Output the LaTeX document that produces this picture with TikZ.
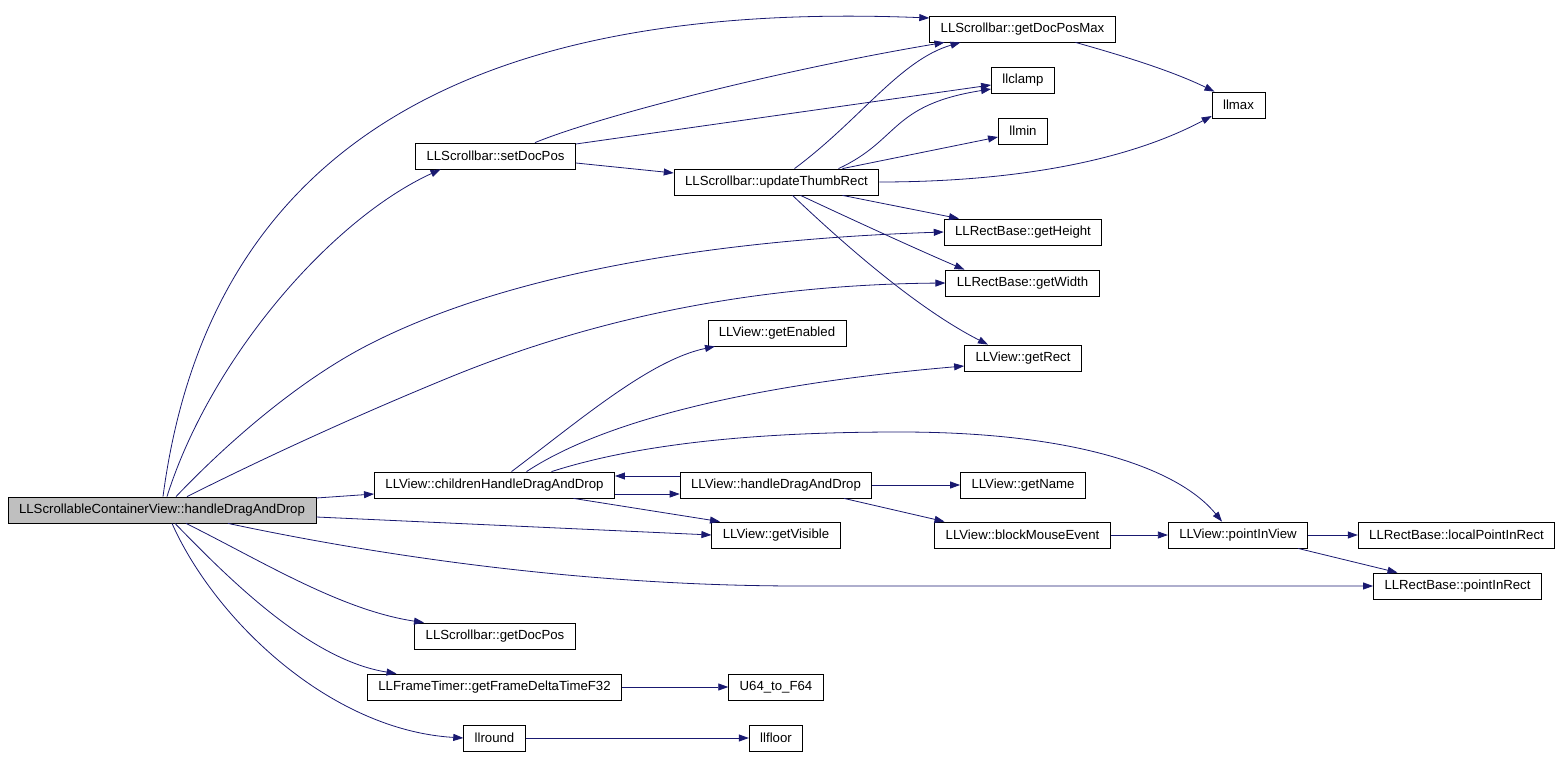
\documentclass[tikz,border=0pt]{standalone}
\usepackage{fontspec}
\setmainfont{Liberation Sans}
\usetikzlibrary{arrows.meta}
\definecolor{callblue}{HTML}{191970}
\definecolor{rootgray}{HTML}{BFBFBF}

\begin{document}
\begin{tikzpicture}[x=1pt,y=-1pt,>={Triangle[length=10pt,width=7pt]},
        fn/.style={draw=black, line width=0.8pt, rectangle, minimum height=26pt,
            inner xsep=11pt, inner ysep=0pt, font=\fontsize{13.2}{15}\selectfont},
        call/.style={->, draw=callblue, fill=none, line width=0.8pt}]

    \useasboundingbox (0,0) rectangle (1563,757);

    \node[fn, fill=rootgray] (H) at (162,510) {LLScrollableContainerView::handleDragAndDrop};
    \node[fn] (S) at (495.5,156) {LLScrollbar::setDocPos};
    \node[fn] (GDPM) at (1022.5,29) {LLScrollbar::getDocPosMax};
    \node[fn] (clamp) at (1023,80) {llclamp};
    \node[fn] (min) at (1023,131) {llmin};
    \node[fn] (max) at (1238.5,105) {llmax};
    \node[fn] (U) at (776.5,182) {LLScrollbar::updateThumbRect};
    \node[fn] (GH) at (1023,232) {LLRectBase::getHeight};
    \node[fn] (GW) at (1022.5,283) {LLRectBase::getWidth};
    \node[fn] (GE) at (777,333) {LLView::getEnabled};
    \node[fn] (GR) at (1023,358) {LLView::getRect};
    \node[fn] (C) at (494.5,485) {LLView::childrenHandleDragAndDrop};
    \node[fn] (HD) at (776,485) {LLView::handleDragAndDrop};
    \node[fn] (GN) at (1023,485) {LLView::getName};
    \node[fn] (GV) at (776,535) {LLView::getVisible};
    \node[fn] (BME) at (1022.5,535) {LLView::blockMouseEvent};
    \node[fn] (PIV) at (1238,535) {LLView::pointInView};
    \node[fn] (LPIR) at (1456.5,535) {LLRectBase::localPointInRect};
    \node[fn] (PIR) at (1457.5,586) {LLRectBase::pointInRect};
    \node[fn] (GDP) at (495,636) {LLScrollbar::getDocPos};
    \node[fn] (FT) at (494.5,687) {LLFrameTimer::getFrameDeltaTimeF32};
    \node[fn] (U64) at (776,687) {U64\_to\_F64};
    \node[fn] (round) at (494.5,738) {llround};
    \node[fn] (floor) at (776,738) {llfloor};

    \draw[call] ([xshift=1pt]H.north) .. controls (210,140) and (480,0) .. ([yshift=11pt]GDPM.west);
    \draw[call] ([xshift=5pt]H.north) .. controls (210,360) and (330,220) .. ([xshift=-55pt]S.south);
    \draw[call] ([xshift=14pt]H.north) .. controls (230,440) and (300,380) .. (368,345)
        .. controls (500,277) and (700,240) .. (GH.west);
    \draw[call] ([xshift=25pt]H.north) .. controls (280,450) and (370,410) .. (448,378)
        .. controls (560,332) and (720,285) .. (GW.west);
    \draw[call] ([yshift=12pt]H.east) -- ([yshift=-9pt]C.west);
    \draw[call] ([yshift=-7pt]H.east) -- (GV.west);
    \draw[call] ([xshift=66pt]H.south) .. controls (400,560) and (600,586) .. (800,586) -- (PIR.west);
    \draw[call] ([xshift=24pt]H.south) .. controls (260,560) and (340,610) .. ([xshift=-71pt]GDP.north);
    \draw[call] ([xshift=13pt]H.south) .. controls (230,580) and (310,660) .. ([xshift=-98pt]FT.north);
    \draw[call] ([xshift=10pt]H.south) .. controls (215,620) and (330,730) .. (round.west);

    \draw[call] ([xshift=39.5pt]S.north) .. controls (600,116) and (780,70) .. ([xshift=-78pt]GDPM.south);
    \draw[call] ([yshift=12pt]S.east) -- ([yshift=-5pt]clamp.west);
    \draw[call] ([yshift=-7pt]S.east) -- ([yshift=9pt]U.west);

    \draw[call] ([xshift=18pt]U.north) .. controls (860,120) and (900,60) .. ([xshift=-62pt]GDPM.south);
    \draw[call] ([xshift=62pt]U.north) .. controls (900,140) and (890,105) .. ([yshift=-9pt]clamp.west);
    \draw[call] ([xshift=66pt]U.north) -- ([yshift=-6pt]min.west);
    \draw[call] (U.east) .. controls (1000,182) and (1120,165) .. ([yshift=-11pt]max.west);
    \draw[call] ([xshift=66pt]U.south) -- ([xshift=-64pt]GH.north);
    \draw[call] ([xshift=24pt]U.south) .. controls (870,228) and (930,255) .. ([xshift=-58pt]GW.north);
    \draw[call] ([xshift=16pt]U.south) .. controls (850,250) and (920,310) .. ([xshift=-35pt]GR.north);
    \draw[call] ([xshift=53pt]GDPM.south) .. controls (1120,55) and (1170,70) .. ([xshift=-24pt]max.north);

    \draw[call] ([xshift=17pt]C.north) .. controls (580,420) and (650,360) .. ([xshift=-62pt]GE.south);
    \draw[call] ([xshift=32pt]C.north) .. controls (620,410) and (800,380) .. ([yshift=-8pt]GR.west);
    \draw[call] ([xshift=57pt]C.north) .. controls (650,440) and (780,432) .. (900,432)
        .. controls (1080,432) and (1180,470) .. ([xshift=-16pt]PIV.north);
    \draw[call] ([yshift=-9pt]C.east) -- ([yshift=-9pt]HD.west);
    \draw[call] ([yshift=9pt]HD.west) -- ([yshift=9pt]C.east);
    \draw[call] ([xshift=79pt]C.south) -- ([xshift=-56pt]GV.north);

    \draw[call] (HD.east) -- (GN.west);
    \draw[call] ([xshift=68pt]HD.south) -- ([xshift=-78pt]BME.north);
    \draw[call] (BME.east) -- (PIV.west);
    \draw[call] (PIV.east) -- (LPIR.west);
    \draw[call] ([xshift=60pt]PIV.south) -- ([xshift=-60pt]PIR.north);
    \draw[call] (FT.east) -- (U64.west);
    \draw[call] (round.east) -- (floor.west);

\end{tikzpicture}
\end{document}
